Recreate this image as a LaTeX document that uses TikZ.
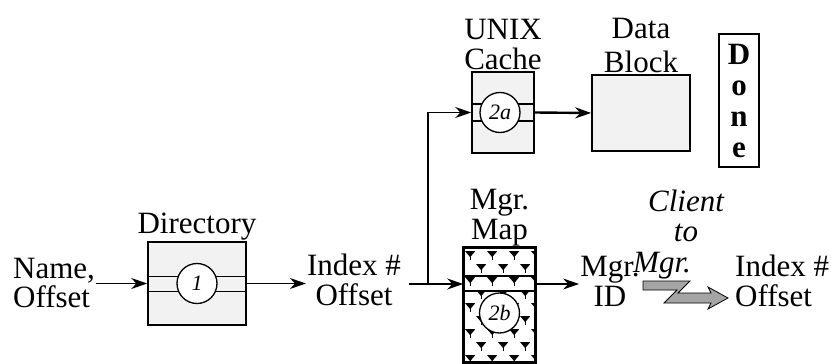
\documentclass[tikz,border=0pt]{standalone}
\usepackage{fontspec}
\setmainfont{Liberation Serif}
\usetikzlibrary{
    arrows.meta,
    positioning,
    calc
}
\definecolor{boxfill}{RGB}{242,242,242}
\definecolor{boltgray}{RGB}{165,165,165}
\tikzset{
    store/.style={
        rectangle,
        draw=black,
        fill=boxfill,
        inner sep=0pt,
        line width=1.6pt
    },
    tag/.style={
        circle,
        draw=black,
        fill=white,
        minimum size=40pt,
        inner sep=0pt,
        font=\fontsize{22}{24}\selectfont\itshape,
        line width=1.3pt
    },
    caption/.style={
        align=center,
        inner sep=1pt,
        font=\fontsize{31}{30}\selectfont
    },
    arrow/.style={
        -{Stealth[length=16pt,width=11pt]},
        draw=black,
        line width=1.6pt
    },
    wire/.style={
        draw=black,
        line width=1.6pt
    }
}

\begin{document}
\begin{tikzpicture}[x=1pt, y=-1pt]
    \useasboundingbox (0,0) rectangle (831,364);

    % Boxes
    \node[store, minimum width=98pt, minimum height=83pt] (dir) at (197,283.5) {};
    \node[store, minimum width=62pt, minimum height=81pt] (cache) at (503,112.5) {};
    \node[store, minimum width=98pt, minimum height=76pt] (data) at (641,113) {};
    \node[store, fill=white, minimum width=71pt, minimum height=114pt] (map) at (499.5,305) {};
    \node[draw, line width=1.4pt, minimum width=40pt, minimum height=133pt, inner sep=0pt,
          align=center, font=\fontsize{31}{31}\selectfont\bfseries] (done) at (739,100.5) {D\\o\\n\\e};

    % Map pattern
    \begin{scope}
        \clip (map.north west) rectangle (map.south east);
        \foreach \r in {0,...,8} {
            \pgfmathsetmacro{\sx}{mod(\r,2)*11}
            \foreach \c in {0,...,3} {
                \fill ($(map.north west)+(7+\sx+22*\c,4+13*\r)$) ++(-5,0) -- ++(10,0) -- ++(-5,6) -- cycle;
                \draw[line width=1.2pt] ($(map.north west)+(7+\sx+22*\c,9+13*\r)$) -- ++(0,3.5);
            }
        }
    \end{scope}
    \draw[line width=1.6pt] (map.north west) rectangle (map.south east);

    % Slots
    \draw[wire] ([yshift=7pt]dir.west) -- ([yshift=7pt]dir.east);
    \draw[wire] ([yshift=-8pt]dir.west) -- ([yshift=-8pt]dir.east);
    \draw[wire] ([yshift=8.5pt]cache.west) -- ([yshift=8.5pt]cache.east);
    \draw[wire] ([yshift=-8.5pt]cache.west) -- ([yshift=-8.5pt]cache.east);
    \draw[wire] ([yshift=-29pt]map.north west) -- ([yshift=-29pt]map.north east);
    \draw[wire] ([yshift=-44pt]map.north west) -- ([yshift=-44pt]map.north east);

    \node[tag] (one) at (dir) {1};
    \node[tag] (twoa) at ([xshift=-3pt]cache.center) {2a};
    \node[tag] (twob) at ([yshift=-8pt]map.center) {2b};

    % Labels
    \node[caption, above=0pt of dir] (dirlbl) {Directory};
    \node[caption, above=0pt of cache] (cachelbl) {UNIX\\Cache};
    \node[caption, above=0pt of data] (datalbl) {Data\\[4pt]Block};
    \node[caption, above=0pt of map] (maplbl) {Mgr.\\Map};

    \node[caption, align=left, anchor=west] (name) at (12,283) {Name,\\Offset};
    \node[caption] (idx) at (354,280) {Index \#\\Offset};
    \node[caption] (mgrid) at (610,281) {Mgr.\\ID};
    \node[caption, font=\fontsize{31}{30}\selectfont\itshape] (client) at (686,216) {Client\\to};
    \node[caption, anchor=base west, inner sep=0pt, font=\fontsize{31}{30}\selectfont\itshape] (mgrto) at (633,272) {Mgr.};
    \node[caption, align=left, anchor=west] (idxb) at (734,281) {Index \#\\Offset};

    % Arrows
    \coordinate (split) at (428,284);
    \draw[arrow] (name.east |- dir.west) -- (dir.west);
    \draw[arrow] (dir.east) -- (dir.east -| idx.west);
    \draw[wire] ([xshift=7pt]idx.east |- split) -- (split);
    \draw[arrow] (split) -- (split -| map.west);
    \draw[arrow] (split) |- (cache.west);
    \draw[arrow, line width=2.4pt] (cache.east) -- (data.west);
    \draw[arrow] (map.east |- split) -- (split -| mgrid.west);

    % Client to Mgr. bolt
    \filldraw[fill=boltgray, draw=black, line width=0.8pt]
        (643,281) -- (690,281) -- (678,293) -- (711,293) -- (708,287) -- (728,298)
        -- (708,309) -- (711,303) -- (664,303) -- (677,290) -- (643,290) -- cycle;
\end{tikzpicture}
\end{document}
